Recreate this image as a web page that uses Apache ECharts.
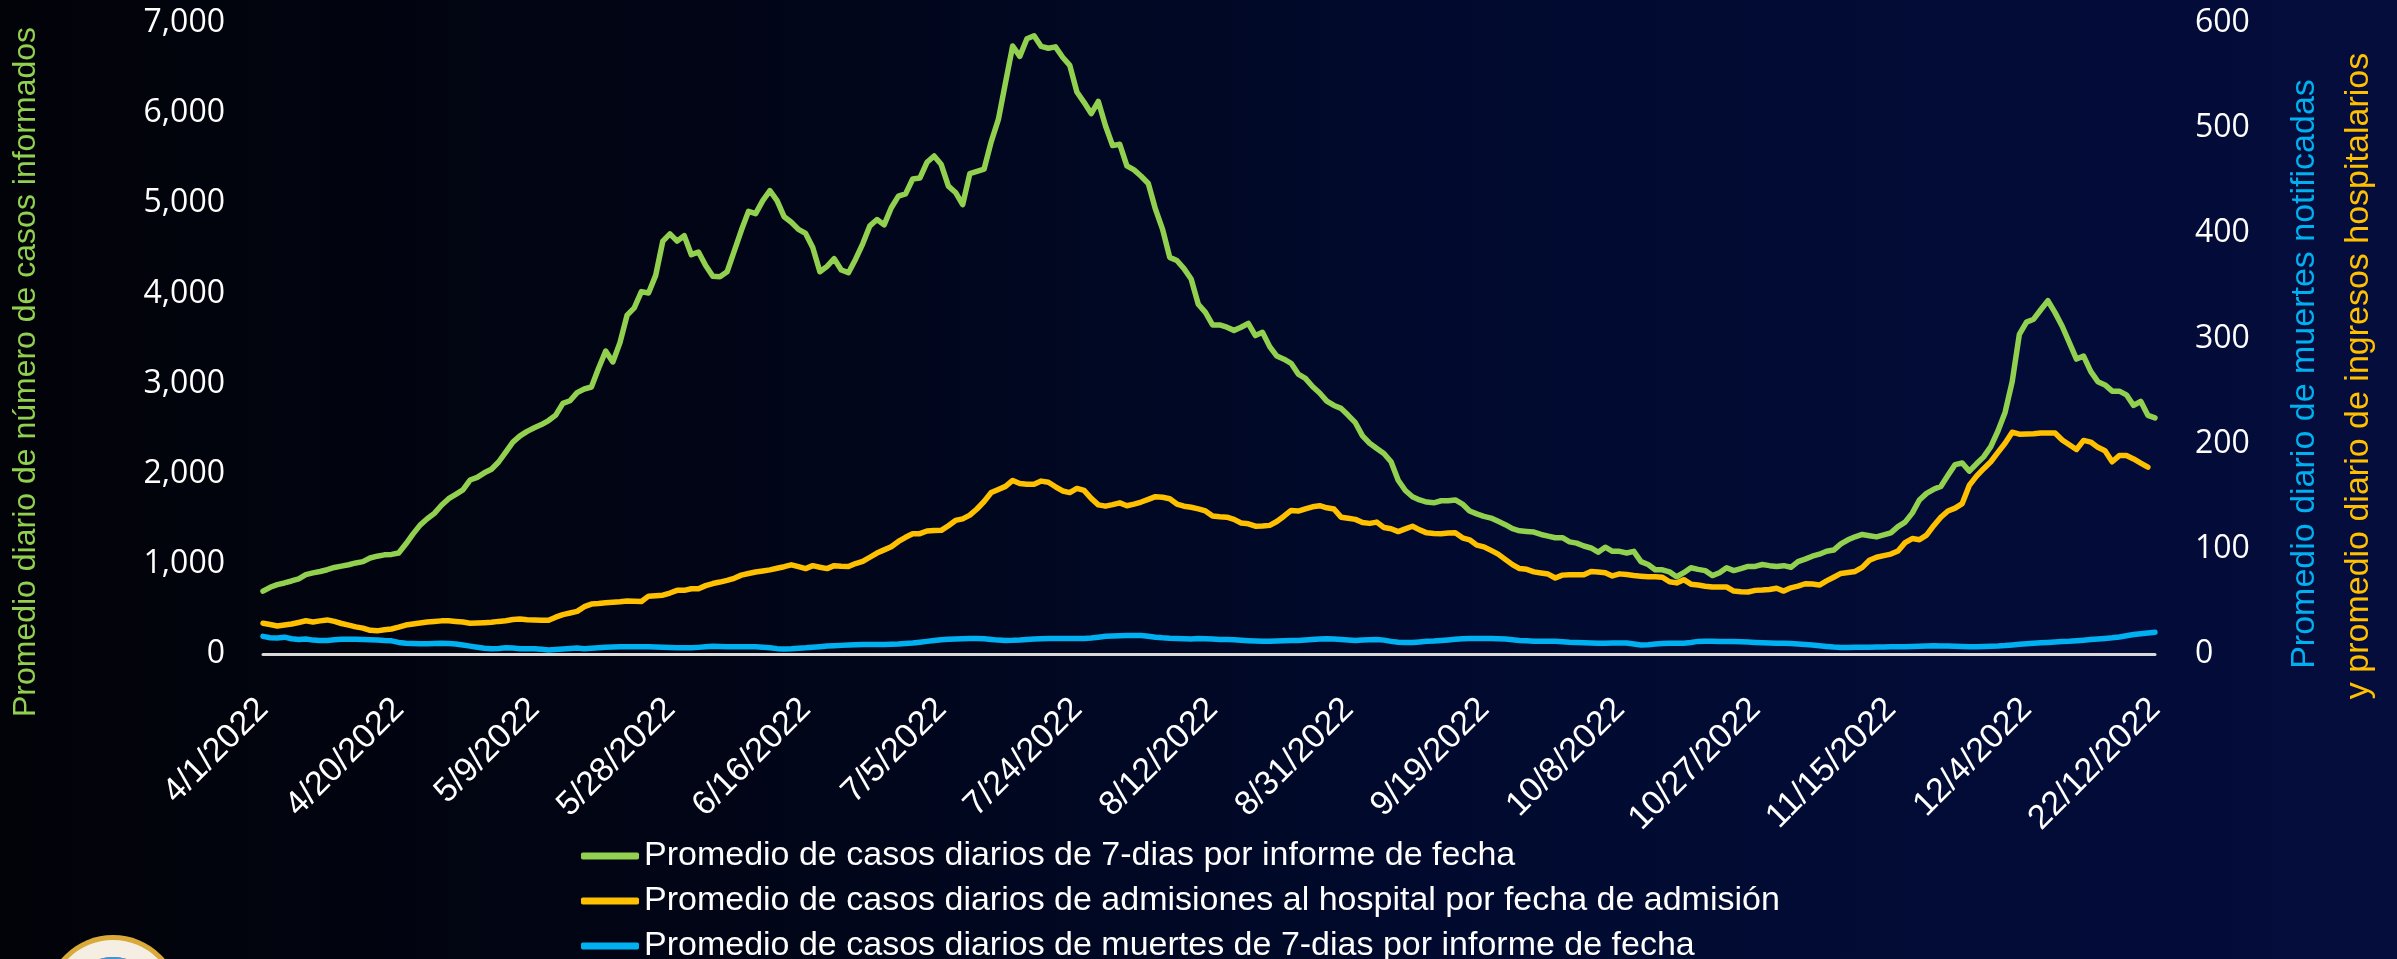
<!DOCTYPE html>
<html>
<head>
<meta charset="utf-8">
<script src="https://cdn.jsdelivr.net/npm/echarts@6/dist/echarts.min.js"></script>
<style>
  html, body { margin: 0; padding: 0; background: #02030a; }
  #chart { width: 2397px; height: 959px; }
</style>
</head>
<body>
<div id="chart"></div>
<script>
// datos diarios del 4/1/2022 al 12/22/2022
const startDate = [2022, 3, 1];
const tickLabels = ['4/1/2022', '4/20/2022', '5/9/2022', '5/28/2022', '6/16/2022', '7/5/2022', '7/24/2022',
  '8/12/2022', '8/31/2022', '9/19/2022', '10/8/2022', '10/27/2022', '11/15/2022', '12/4/2022', '22/12/2022'];
const tickStep = 19;

const seriesNames = [
  'Promedio de casos diarios de 7-dias por informe de fecha',
  'Promedio de casos diarios de admisiones al hospital por fecha de admisión',
  'Promedio de casos diarios de muertes de 7-dias por informe de fecha'
];

// eje izquierdo
const casos = [
  697, 740, 770, 788, 810, 834, 880, 900, 915, 935,
  960, 975, 990, 1010, 1025, 1065, 1085, 1100, 1105, 1120,
  1220, 1330, 1430, 1500, 1560, 1650, 1723, 1770, 1820, 1930,
  1960, 2010, 2050, 2130, 2240, 2350, 2420, 2470, 2510, 2545,
  2590, 2650, 2780, 2810, 2900, 2940, 2962, 3170, 3360, 3240,
  3454, 3760, 3840, 4020, 4005, 4200, 4580, 4660, 4580, 4640,
  4430, 4460, 4310, 4190, 4185, 4240, 4470, 4700, 4910, 4885,
  5030, 5140, 5030, 4850, 4790, 4710, 4665, 4510, 4240, 4300,
  4385, 4260, 4230, 4380, 4550, 4750, 4820, 4760, 4950, 5080,
  5105, 5270, 5280, 5455, 5525, 5430, 5190, 5120, 4985, 5330,
  5355, 5380, 5685, 5930, 6340, 6745, 6630, 6825, 6858, 6740,
  6720, 6735, 6620, 6530, 6235, 6120, 5995, 6130, 5860, 5640,
  5655, 5415, 5370, 5300, 5220, 4935, 4710, 4400, 4365, 4275,
  4160, 3880, 3790, 3650, 3650, 3625, 3590, 3625, 3668, 3532,
  3568, 3410, 3305, 3270, 3225, 3105, 3058, 2967, 2895, 2805,
  2757, 2725, 2648, 2566, 2420, 2338, 2280, 2224, 2133, 1928,
  1814, 1745, 1709, 1686, 1677, 1700, 1700, 1709, 1663, 1586,
  1554, 1527, 1508, 1472, 1435, 1390, 1367, 1360, 1353, 1326,
  1308, 1290, 1290, 1244, 1230, 1198, 1176, 1130, 1185, 1139,
  1139, 1121, 1139, 1025, 993, 934, 934, 911, 857, 902,
  957, 939, 925, 870, 902, 957, 925, 948, 971, 971,
  993, 980, 971, 980, 962, 1025, 1053, 1085, 1107, 1140,
  1153, 1221, 1267, 1300, 1326, 1312, 1299, 1322, 1344, 1413,
  1463, 1563, 1709, 1782, 1827, 1859, 1982, 2101, 2119, 2028,
  2110, 2187, 2301, 2474, 2680, 3021, 3545, 3682, 3714, 3819,
  3919, 3787, 3636, 3454, 3272, 3304, 3135, 3021, 2985, 2916,
  2916, 2875, 2757, 2803, 2648, 2620
];

// eje derecho
const hospital = [
  29.3, 28, 26.6, 27.5, 28.5, 30, 31.6, 30.5, 31.5, 32.4,
  31, 29, 27.5, 25.8, 24.6, 22.5, 22, 23, 23.8, 25.5,
  27.5, 28.5, 29.5, 30.5, 31, 31.5, 31.6, 31, 30.5, 29.3,
  29.5, 29.8, 30.1, 31, 31.6, 32.8, 33.2, 32.6, 32.4, 32.2,
  32, 35, 37.5, 39, 40.5, 45, 47.5, 48, 48.8, 49.2,
  49.6, 50.4, 50.2, 50, 55, 55.5, 55.9, 58, 60.5, 60.5,
  62, 62.1, 65, 67, 68.4, 70, 72, 75, 76.5, 78,
  79, 80, 81.5, 83, 84.8, 83, 81.2, 84, 82.5, 81.2,
  84, 83.5, 83.2, 86, 88, 92, 96, 99, 102, 107,
  111, 114.4, 114.4, 117, 117.4, 117.6, 122, 127, 128.5, 132,
  137.9, 145, 153.5, 156.5, 159.4, 165, 162.1, 161.5, 161.3, 164.4,
  163.3, 159, 155, 153.5, 157.4, 155.5, 148, 141.8, 140.6, 142,
  143.7, 141, 142.5, 144.5, 147, 149.6, 149, 147.6, 142.6, 140.5,
  139.5, 138, 136, 131.2, 130.5, 130.1, 128, 124.5, 123.8, 121.5,
  121.8, 122.3, 126, 131, 136.5, 135.9, 138, 140, 141, 139,
  137.9, 130.1, 129, 128, 125, 124.2, 125.4, 120.3, 119.1, 116.4,
  119, 121.5, 118, 115.2, 114.5, 114.4, 115, 115.2, 110.5, 108.6,
  103.5, 101.9, 98.5, 95, 90, 85, 81.2, 80.5, 78.1, 77,
  76, 72.3, 75, 75.4, 75.4, 75.4, 78.5, 78, 77.3, 74.2,
  76.2, 75.5, 74.6, 74, 73.4, 73.4, 73, 68.7, 67.6, 70.7,
  66.4, 65.6, 64.5, 63.7, 63.7, 63.7, 59.8, 59.2, 59, 60.5,
  60.8, 61.3, 62.5, 59.8, 62.9, 64.5, 66.8, 66.5, 65.6, 69.5,
  73, 76.6, 77.5, 78.5, 82.4, 89.1, 92, 93.5, 95, 98,
  105.9, 109.8, 108.6, 113, 122, 130, 136, 138.7, 143, 160.5,
  169.1, 176.2, 182.8, 191.8, 200.4, 210.9, 209, 209.2, 209.4, 210.1,
  210.1, 210.1, 203.5, 199, 194.5, 203.1, 201.5, 196.5, 193.3, 182.8,
  188.7, 188.7, 185.5, 181.5, 177.7, null
];

const muertes = [
  16.8, 15.5, 15.2, 16, 14.5, 13.7, 14.2, 13.2, 12.9, 12.9, 13.5,
  14, 14, 14, 13.8, 13.5, 13.3, 12.8, 12.5, 11, 10.2,
  10, 9.8, 9.8, 10, 10.2, 10, 9.5, 8.5, 7.5, 6.5,
  5.5, 5.1, 5.3, 5.9, 5.6, 5.1, 5.1, 5.1, 4.5, 3.9,
  4.3, 4.7, 5.2, 5.6, 5.1, 5.5, 6, 6.4, 6.6, 6.8,
  7, 7, 7, 6.8, 6.6, 6.4, 6.2, 6, 5.9, 5.9,
  6.3, 6.8, 7.4, 7.2, 7, 7, 7, 7, 7, 6.5,
  5.9, 5.1, 4.7, 5, 5.5, 5.9, 6.5, 7, 7.5, 7.8,
  8.2, 8.5, 8.8, 9, 9, 9, 9, 9.3, 9.5, 10,
  10.5, 11.2, 12, 12.8, 13.5, 14, 14.3, 14.5, 14.8, 14.8,
  14.5, 13.8, 13.2, 12.9, 13, 13.3, 13.8, 14.2, 14.5, 14.8,
  14.8, 14.8, 14.8, 14.8, 14.8, 15.2, 16, 16.8, 17, 17.3,
  17.6, 17.6, 17.6, 16.8, 16, 15.4, 15, 14.8, 14.5, 14.3,
  14.8, 14.6, 14.2, 13.9, 13.7, 13.5, 13, 12.6, 12.3, 12.1,
  12.1, 12.3, 12.6, 12.9, 12.9, 13.3, 13.7, 14.2, 14.5, 14.3,
  13.8, 13.3, 12.9, 13.2, 13.5, 13.7, 13.2, 12, 11.2, 10.9,
  11, 11.5, 12.1, 12.4, 12.9, 13.4, 14, 14.5, 14.8, 14.8,
  14.8, 14.8, 14.6, 14.2, 13.6, 12.9, 12.5, 12.2, 12.1, 12.1,
  12.1, 11.6, 11.1, 10.9, 10.6, 10.4, 10.2, 10.3, 10.4, 10.5,
  10.5, 9.5, 8.6, 8.9, 9.4, 9.9, 10.2, 10.2, 10.2, 11,
  12, 12.1, 12.1, 12, 11.9, 11.8, 11.7, 11.4, 11, 10.7,
  10.5, 10.2, 10.2, 10, 9.5, 9, 8.5, 7.9, 7.2, 6.6,
  6.2, 6.2, 6.3, 6.4, 6.5, 6.6, 6.7, 6.8, 6.9, 7,
  7.2, 7.4, 7.6, 7.8, 7.7, 7.5, 7.3, 7.1, 7, 7,
  7.2, 7.4, 7.6, 8, 8.6, 9.2, 9.8, 10.2, 10.6, 11,
  11.4, 11.8, 12.1, 12.6, 13.1, 13.7, 14.2, 14.8, 15.4, 16.2,
  17.3, 18.5, 19.3, 20, 20.7
];

const colors = ['#92d050', '#ffc000', '#00b0f0'];

// fechas del eje x
const fechas = casos.map((v, i) => {
  const d = new Date(startDate[0], startDate[1], startDate[2] + i);
  return (d.getMonth() + 1) + '/' + d.getDate() + '/' + d.getFullYear();
});
const last = fechas.length - 1;

const chart = echarts.init(document.getElementById('chart'));

const labelFont = 'Liberation Sans';

const option = {
  backgroundColor: {
    type: 'linear', x: 0, y: 0, x2: 1, y2: 0,
    colorStops: [
      { offset: 0, color: '#020309' },
      { offset: 0.3, color: '#010516' },
      { offset: 0.6, color: '#010a2e' },
      { offset: 1, color: '#040d3c' }
    ]
  },
  animation: false,
  grid: { left: 263, right: 242, top: 23, bottom: 305 },
  legend: {
    orient: 'vertical',
    left: 581,
    top: 838,
    height: 140,
    padding: 0,
    itemWidth: 58,
    itemHeight: 7,
    itemGap: 9,
    icon: 'roundRect',
    data: seriesNames,
    textStyle: { color: '#ffffff', fontFamily: labelFont, fontSize: 34, lineHeight: 36 }
  },
  xAxis: {
    type: 'category',
    data: fechas,
    boundaryGap: false,
    axisLine: { lineStyle: { color: '#d9d9d9', width: 3 } },
    axisTick: { show: false },
    axisLabel: {
      rotate: 45,
      margin: 50,
      color: '#ffffff',
      fontFamily: labelFont,
      fontSize: 34,
      interval: (idx) => idx % tickStep === 0 || idx === last,
      formatter: (val, idx) => tickLabels[Math.ceil(idx / tickStep)]
    }
  },
  yAxis: [
    {
      type: 'value', min: 0, max: 7000, interval: 1000,
      splitLine: { show: false },
      axisLabel: {
        color: '#ffffff', fontFamily: 'Open Sans', fontSize: 32, margin: 38,
        formatter: (v) => v.toLocaleString('en-US')
      }
    },
    {
      type: 'value', min: 0, max: 600, interval: 100,
      splitLine: { show: false },
      axisLabel: { color: '#ffffff', fontFamily: 'Open Sans', fontSize: 32, margin: 40 }
    }
  ],
  series: [
    { name: seriesNames[0], data: casos, yAxisIndex: 0 },
    { name: seriesNames[1], data: hospital, yAxisIndex: 1 },
    { name: seriesNames[2], data: muertes, yAxisIndex: 1 }
  ].map((s, i) => Object.assign({
    type: 'line',
    showSymbol: false,
    smooth: false,
    color: colors[i],
    lineStyle: { width: 5.5, color: colors[i], cap: 'round', join: 'round' }
  }, s)),
  graphic: [
    {
      type: 'text', x: 26, y: 372, rotation: Math.PI / 2,
      style: { text: 'Promedio diario de número de casos informados', fill: colors[0],
        font: '32px "Liberation Sans"', textAlign: 'center', textVerticalAlign: 'middle' }
    },
    {
      type: 'text', x: 2305, y: 374, rotation: Math.PI / 2,
      style: { text: 'Promedio diario de muertes notificadas', fill: colors[2],
        font: '34px "Liberation Sans"', textAlign: 'center', textVerticalAlign: 'middle' }
    },
    {
      type: 'text', x: 2359, y: 376, rotation: Math.PI / 2,
      style: { text: 'y promedio diario de ingresos hospitalarios', fill: colors[1],
        font: '34px "Liberation Sans"', textAlign: 'center', textVerticalAlign: 'middle' }
    },
    // sello del condado (recortado abajo a la izquierda)
    { type: 'circle', shape: { cx: 113, cy: 1003, r: 68 }, style: { fill: '#d9aa3a' } },
    { type: 'circle', shape: { cx: 113, cy: 1003, r: 63 }, style: { fill: '#f4efe2' } },
    { type: 'circle', shape: { cx: 113, cy: 1003, r: 46 }, style: { fill: '#d62e3a' } },
    { type: 'sector', shape: { cx: 113, cy: 1003, r: 46, startAngle: -2.1, endAngle: -1.05 }, style: { fill: '#3b9ad8' } },
    { type: 'circle', shape: { cx: 113, cy: 1003, r: 20 }, style: { fill: '#e8b93a' } }
  ]
};

chart.setOption(option);
</script>
</body>
</html>
